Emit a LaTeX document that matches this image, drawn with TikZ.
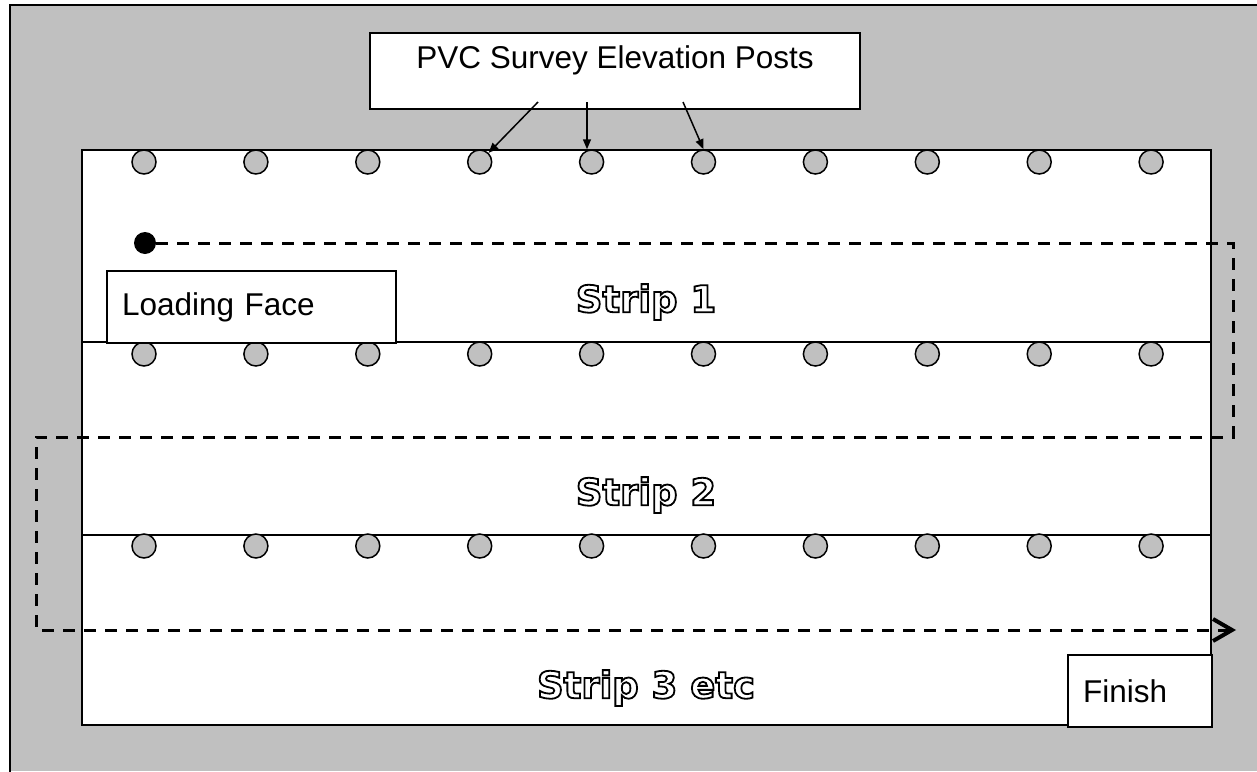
\documentclass[tikz,border=0pt]{standalone}
\usepackage{fontspec}
\setmainfont{Liberation Sans}
\newfontfamily\stripfont{DejaVu Sans}
\usetikzlibrary{arrows.meta}
\definecolor{bg}{RGB}{192,192,192}
\newcommand{\outlinetext}[1]{\special{pdf:literal direct 2 Tr 1.8 w 1 g 0 G}#1\special{pdf:literal direct 0 Tr 0 g 0 G}}
\begin{document}
\begin{tikzpicture}[x=1pt,y=-1pt,
  post/.style={circle, draw, fill=bg, line width=1.5pt, minimum size=24pt, inner sep=0pt},
  lbl/.style={font=\fontsize{31.5}{36}\selectfont},
  box/.style={draw, fill=white, line width=2pt},
  striptext/.style={font=\stripfont\bfseries\fontsize{37}{40}\selectfont},
  route/.style={line width=3pt, dash pattern=on 12pt off 9pt},
  pointer/.style={line width=1.5pt, -{Triangle[length=10pt,width=8pt]}}]
\useasboundingbox (0,0) rectangle (1257,771);
% background
\fill[bg] (10,5) rectangle (1257,771);
\draw[line width=2.5pt] (10,775) -- (10,5) -- (1262,5);
% field
\draw[fill=white, line width=2pt] (82,150) rectangle (1211,725);
\draw[line width=2pt] (82,342) -- (1211,342);
\draw[line width=2pt] (82,535) -- (1211,535);
% posts
\foreach \r/\yy in {1/162, 2/354, 3/546} {
  \foreach \i in {0,...,9} {
    \node[post] (p\r-\i) at ({144+111.9*\i}, \yy) {};
  }
}
% PVC box
\node[box, anchor=north, minimum width=490pt, minimum height=76pt] (pvc) at (615,32) {};
\node[lbl] (pvctext) at (615,60) {PVC Survey Elevation Posts};
\coordinate (a1) at (538,102);
\coordinate (a2) at (587,102);
\coordinate (a3) at (683,102);
\draw[pointer] (a1) -- (p1-3);
\draw[pointer] (a2) -- (a2 |- p1-4.north);
\draw[pointer] (a3) -- (p1-5.north);
% loading face
\node[box, lbl, anchor=north west, minimum width=289pt, minimum height=72pt, inner xsep=15pt, text width=259pt, align=left] (load) at (106,270) {Loading Face};
% finish
\node[box, lbl, anchor=north west, minimum width=144pt, minimum height=72pt, inner xsep=15pt, text width=114pt, align=left] (finish) at (1067,654) {Finish};
% strips
\node[striptext] (s1) at (646,302) {\outlinetext{Strip 1}};
\node[striptext] (s2) at (646,495) {\outlinetext{Strip 2}};
\node[striptext] (s3) at (646,688) {\outlinetext{Strip 3 etc}};
% route
\node[circle, fill=black, minimum size=22pt, inner sep=0pt] (start) at (145,243) {};
\coordinate (c1) at (1233,243);
\coordinate (c2) at (1233,437);
\coordinate (c3) at (36,437);
\coordinate (c4) at (36,630);
\coordinate (end) at (1236,630);
\draw[route, -{Straight Barb[length=19pt,width=22pt,line width=4pt]}] (start.east) -- (c1) -- (c2) -- (c3) -- (c4) -- (end);
\end{tikzpicture}
\end{document}
